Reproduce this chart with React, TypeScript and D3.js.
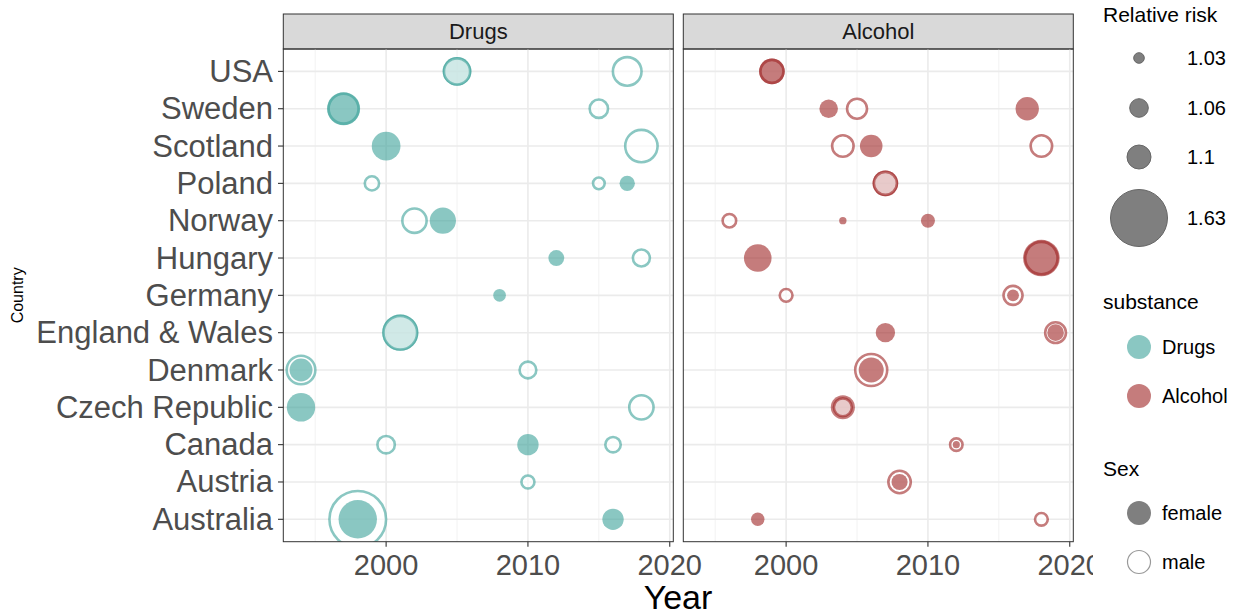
import React from "react";
import * as d3 from "d3";

// Countries, bottom to top
const countries = [
  "Australia", "Austria", "Canada", "Czech Republic", "Denmark", "England & Wales",
  "Germany", "Hungary", "Norway", "Poland", "Scotland", "Sweden", "USA",
];

const substances = ["Drugs", "Alcohol"];
const xTicks = [2000, 2010, 2020];
const xMinor = [1995, 2005, 2015];
const sizeBreaks = [1.03, 1.06, 1.1, 1.63];
const sexLevels = ["female", "male"];

// [country, year, sex, relative risk] in drawing order
const drugsPoints: [string, number, string, number][] = [
  ["USA", 2005, "female", 1.16],
  ["USA", 2005, "male", 1.16],
  ["USA", 2017, "male", 1.2],
  ["Sweden", 1997, "male", 1.22],
  ["Sweden", 1997, "female", 1.23],
  ["Sweden", 2015, "male", 1.07],
  ["Scotland", 2000, "female", 1.16],
  ["Scotland", 2018, "male", 1.26],
  ["Poland", 1999, "male", 1.05],
  ["Poland", 2015, "male", 1.04],
  ["Poland", 2017, "female", 1.044],
  ["Norway", 2002, "male", 1.13],
  ["Norway", 2004, "female", 1.12],
  ["Hungary", 2012, "female", 1.046],
  ["Hungary", 2018, "male", 1.06],
  ["Germany", 2008, "female", 1.034],
  ["England & Wales", 2001, "female", 1.28],
  ["England & Wales", 2001, "male", 1.28],
  ["Denmark", 1994, "male", 1.2],
  ["Denmark", 1994, "female", 1.085],
  ["Denmark", 2010, "male", 1.059],
  ["Czech Republic", 1994, "female", 1.155],
  ["Czech Republic", 2018, "male", 1.13],
  ["Canada", 2000, "male", 1.063],
  ["Canada", 2010, "female", 1.073],
  ["Canada", 2016, "male", 1.054],
  ["Austria", 2010, "male", 1.045],
  ["Australia", 1998, "male", 1.65],
  ["Australia", 1998, "female", 1.315],
  ["Australia", 2016, "female", 1.073],
];

const alcoholPoints: [string, number, string, number][] = [
  ["USA", 1999, "male", 1.11],
  ["USA", 1999, "female", 1.11],
  ["Sweden", 2003, "female", 1.056],
  ["Sweden", 2005, "male", 1.082],
  ["Sweden", 2017, "female", 1.088],
  ["Scotland", 2004, "male", 1.093],
  ["Scotland", 2006, "female", 1.082],
  ["Scotland", 2018, "male", 1.093],
  ["Poland", 2007, "female", 1.11],
  ["Poland", 2007, "male", 1.11],
  ["Norway", 1996, "male", 1.047],
  ["Norway", 2004, "female", 1.014],
  ["Norway", 2010, "female", 1.039],
  ["Hungary", 1998, "female", 1.142],
  ["Hungary", 2018, "male", 1.26],
  ["Hungary", 2018, "female", 1.286],
  ["Germany", 2000, "male", 1.044],
  ["Germany", 2016, "male", 1.075],
  ["Germany", 2016, "female", 1.031],
  ["England & Wales", 2007, "female", 1.059],
  ["England & Wales", 2019, "male", 1.088],
  ["England & Wales", 2019, "female", 1.049],
  ["Denmark", 2006, "male", 1.254],
  ["Denmark", 2006, "female", 1.1],
  ["Czech Republic", 2004, "female", 1.093],
  ["Czech Republic", 2004, "male", 1.067],
  ["Canada", 2012, "male", 1.043],
  ["Canada", 2012, "female", 1.013],
  ["Austria", 2008, "male", 1.1],
  ["Austria", 2008, "female", 1.047],
  ["Australia", 1998, "female", 1.037],
  ["Australia", 2018, "male", 1.044],
];

const colors: Record<string, string> = { Drugs: "#3ca299", Alcohol: "#9e2424" };

const W = 1242;
const H = 615;
const panelTop = 49;
const panelBottom = 541.7;
const panelW = 390;
const panelLefts = [283.3, 683.3];
const stripTop = 14;
const font = "Liberation Sans, Arial, Helvetica, sans-serif";

export default function App() {
  const x = d3.scaleLinear().domain([1992.75, 2020.25]).range([0, panelW]);
  const y = d3.scalePoint<string>().domain(countries).range([panelBottom, panelTop]).padding(0.6);
  const rScale = d3.scaleLinear().domain(sizeBreaks).range([5.8, 9.8, 12.5, 29]);
  const data: Record<string, [string, number, string, number][]> = {
    Drugs: drugsPoints,
    Alcohol: alcoholPoints,
  };
  const maleSW = 2.6;

  return (
    <svg width={W} height={H} style={{ position: "absolute", left: 0, top: 0, background: "#fff" }} fontFamily={font}>
      <defs>
        {substances.map((s, pi) => (
          <clipPath key={s} id={"clip" + pi}>
            <rect x={panelLefts[pi]} y={panelTop} width={panelW} height={panelBottom - panelTop} />
          </clipPath>
        ))}
      </defs>
      <rect x={0} y={0} width={W} height={H} fill="#fff" />
      {substances.map((s, pi) => {
        const L = panelLefts[pi];
        return (
          <g key={s}>
            {/* strip */}
            <rect x={L} y={stripTop} width={panelW} height={panelTop - stripTop} fill="#d9d9d9" stroke="#333" strokeWidth={1} />
            <text x={L + panelW / 2} y={(stripTop + panelTop) / 2} textAnchor="middle" dominantBaseline="central" fontSize={22} fill="#1a1a1a">
              {s}
            </text>
            {/* grid */}
            {xMinor.map((t) => (
              <line key={"m" + t} x1={L + x(t)} x2={L + x(t)} y1={panelTop} y2={panelBottom} stroke="#f2f2f2" strokeWidth={1} />
            ))}
            {xTicks.map((t) => (
              <line key={"M" + t} x1={L + x(t)} x2={L + x(t)} y1={panelTop} y2={panelBottom} stroke="#ebebeb" strokeWidth={1.6} />
            ))}
            {countries.map((c) => (
              <line key={c} x1={L} x2={L + panelW} y1={y(c)} y2={y(c)} stroke="#ebebeb" strokeWidth={1.6} />
            ))}
            {/* points */}
            <g clipPath={`url(#clip${pi})`}>
              {data[s].map(([c, yr, sex, rr], i) => {
                const R = rScale(rr);
                const col = colors[s];
                if (sex === "female") {
                  return <circle key={i} cx={L + x(yr)} cy={y(c)} r={R} fill={col} fillOpacity={0.6} />;
                }
                return (
                  <circle key={i} cx={L + x(yr)} cy={y(c)} r={R - maleSW / 2} fill="#fff" fillOpacity={0.6}
                    stroke={col} strokeOpacity={0.6} strokeWidth={maleSW} />
                );
              })}
            </g>
            {/* panel border */}
            <rect x={L} y={panelTop} width={panelW} height={panelBottom - panelTop} fill="none" stroke="#333" strokeWidth={1} />
            {/* x ticks */}
            {xTicks.map((t) => (
              <g key={"t" + t}>
                <line x1={L + x(t)} x2={L + x(t)} y1={panelBottom} y2={panelBottom + 5} stroke="#333" strokeWidth={1.1} />
                <text x={L + x(t)} y={575} textAnchor="middle" fontSize={29} fill="#4d4d4d">{t}</text>
              </g>
            ))}
          </g>
        );
      })}
      {/* y axis */}
      {countries.map((c) => (
        <g key={"y" + c}>
          <line x1={278} x2={panelLefts[0]} y1={y(c)} y2={y(c)} stroke="#333" strokeWidth={1.1} />
          <text x={273} y={y(c)} textAnchor="end" dominantBaseline="central" fontSize={31} fill="#4d4d4d">{c}</text>
        </g>
      ))}
      <text x={678} y={609} textAnchor="middle" fontSize={34} fill="#000">Year</text>
      <text transform={`translate(23,${(panelTop + panelBottom) / 2}) rotate(-90)`} textAnchor="middle" fontSize={16} fill="#000">Country</text>

      {/* legend */}
      <rect x={1093} y={0} width={W - 1093} height={H} fill="#fff" />
      <text x={1103} y={22} fontSize={21} fill="#000">Relative risk</text>
      {sizeBreaks.map((b, i) => {
        const cy = [58, 108, 157, 218][i];
        return (
          <g key={"sb" + b}>
            <circle cx={1139} cy={cy} r={rScale(b) - 0.5} fill="#7f7f7f" stroke="#666" strokeWidth={1} />
            <text x={1187} y={cy} dominantBaseline="central" fontSize={20} fill="#000">{b}</text>
          </g>
        );
      })}
      <text x={1103} y={309} fontSize={21} fill="#000">substance</text>
      {substances.map((s, i) => {
        const cy = 347 + i * 49;
        return (
          <g key={"sl" + s}>
            <circle cx={1139} cy={cy} r={12} fill={colors[s]} fillOpacity={0.6} />
            <text x={1162} y={cy} dominantBaseline="central" fontSize={20} fill="#000">{s}</text>
          </g>
        );
      })}
      <text x={1103} y={476} fontSize={21} fill="#000">Sex</text>
      {sexLevels.map((s, i) => {
        const cy = 513 + i * 49;
        return (
          <g key={"sx" + s}>
            {s === "female" ? (
              <circle cx={1139} cy={cy} r={12} fill="#7f7f7f" />
            ) : (
              <circle cx={1139} cy={cy} r={11.5} fill="#fff" stroke="#999" strokeWidth={1.2} />
            )}
            <text x={1162} y={cy} dominantBaseline="central" fontSize={20} fill="#000">{s}</text>
          </g>
        );
      })}
    </svg>
  );
}
